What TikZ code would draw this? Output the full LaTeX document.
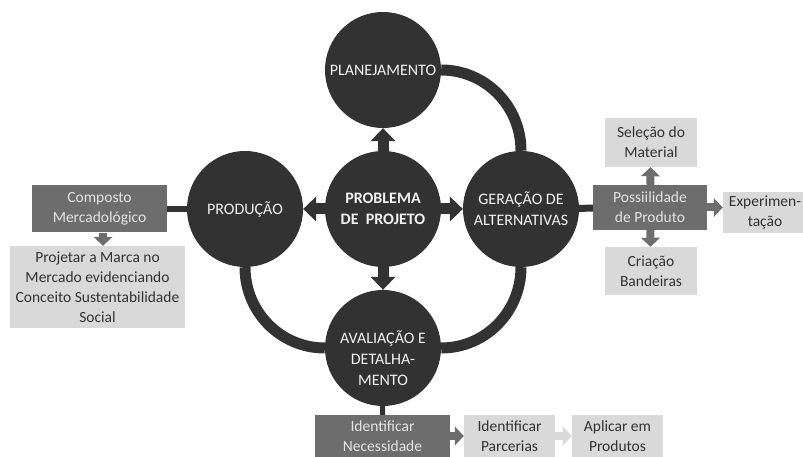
\documentclass[tikz,border=0pt]{standalone}
\usepackage{fontspec}
\setmainfont{Carlito}
\usetikzlibrary{arrows.meta}

\definecolor{circgray}{HTML}{323232}
\definecolor{boxdark}{HTML}{6D6D6D}
\definecolor{boxlight}{HTML}{D9D9D9}
\definecolor{boxtext}{HTML}{E4E4E4}

\begin{document}
\begin{tikzpicture}[x=1pt, y=1pt,
  circ/.style={circle, fill=circgray, minimum size=116pt, inner sep=0pt,
    text=white!95!black, align=center, font=\fontsize{16}{21}\selectfont},
  dbox/.style={fill=boxdark, text=boxtext, align=center, inner sep=0pt,
    font=\fontsize{15.5}{20}\selectfont},
  lbox/.style={fill=boxlight, text=circgray, align=center, inner sep=0pt,
    font=\fontsize{15.5}{20}\selectfont},
  ring/.style={draw=circgray, line width=11pt},
  link/.style={draw=circgray, line width=6pt},
  hubarrow/.style={draw=circgray, line width=11pt, shorten <=-3pt,
    -{Triangle[length=13pt, width=25pt, line width=0pt]}},
  boxarrow/.style={draw=boxdark, line width=8pt,
    -{Triangle[length=9pt, width=19pt, line width=0pt]}}]

  \useasboundingbox (0,0) rectangle (803,457);

  % ----------------------------------------------------------------
  % the five circles
  % ----------------------------------------------------------------
  \node[circ] (plan) at (383,387) {PLANEJAMENTO};
  \node[circ, font=\bfseries\fontsize{16}{21}\selectfont] (prob) at (383,248)
    {PROBLEMA\\DE~~PROJETO};
  \node[circ] (prod) at (245,248) {PRODUÇÃO};
  \node[circ] (ger) at (521,248) {GERAÇÃO DE\\ALTERNATIVAS};
  \node[circ, label={[circ, fill=none, minimum size=0pt, yshift=-10pt]center:%
    {AVALIAÇÃO E\\DETALHA-\\MENTO}}] (aval) at (383,109) {};

  % ring round the hub (open between PRODUÇÃO and PLANEJAMENTO)
  \draw[ring] (plan.east) to[out=0, in=90] (ger.north);
  \draw[ring] (ger.south) to[out=-90, in=0] (aval.east);
  \draw[ring] (aval.west) to[out=180, in=-90] (prod.south);

  % arrows out of the hub
  \foreach \t in {plan, prod, ger, aval} {
    \draw[hubarrow] (prob) -- (\t);
  }

  % ----------------------------------------------------------------
  % left: PRODUÇÃO
  % ----------------------------------------------------------------
  \node[dbox, minimum width=135pt, minimum height=47pt] (comp) at (99.5,248)
    {Composto\\Mercadológico};
  \node[lbox, minimum width=175pt, minimum height=82pt] (marca) at (97.5,170)
    {Projetar a Marca no\\Mercado evidenciando\\Conceito Sustentabilidade\\Social};
  \draw[link] (comp) -- (prod);
  \draw[boxarrow] (comp.south -| 103,0) -- (marca.north -| 103,0);

  % ----------------------------------------------------------------
  % right: GERAÇÃO DE ALTERNATIVAS
  % ----------------------------------------------------------------
  \node[dbox, minimum width=114pt, minimum height=45pt] (poss) at (650,249.5)
    {Possiilidade\\de Produto};
  \node[lbox, minimum width=92pt, minimum height=49pt] (sel) at (651,314.5)
    {Seleção do\\Material};
  \node[lbox, minimum width=92pt, minimum height=48pt] (cri) at (651,186)
    {Criação\\Bandeiras};
  \node[lbox, minimum width=84pt, minimum height=41pt] (exp) at (765,244.5)
    {Experimen-\\tação};
  \draw[link, line width=7pt] (ger) -- (poss);
  \draw[boxarrow] (poss) -- (sel);
  \draw[boxarrow] (poss) -- (cri);
  \draw[boxarrow] (poss.east) -- (exp.west |- poss.east);

  % ----------------------------------------------------------------
  % bottom: AVALIAÇÃO E DETALHAMENTO
  % ----------------------------------------------------------------
  \node[dbox, minimum width=135pt, minimum height=42pt] (nec) at (382.5,21)
    {Identificar\\Necessidade};
  \node[lbox, minimum width=91pt, minimum height=42pt] (parc) at (509.5,21)
    {Identificar\\Parcerias};
  \node[lbox, minimum width=91pt, minimum height=42pt] (apl) at (617.5,21)
    {Aplicar em\\Produtos};
  \draw[link, line width=5pt] (aval) -- (nec);
  \draw[boxarrow] (nec) -- (parc);
  \draw[boxarrow, draw=boxlight] (parc) -- (apl);

\end{tikzpicture}
\end{document}
